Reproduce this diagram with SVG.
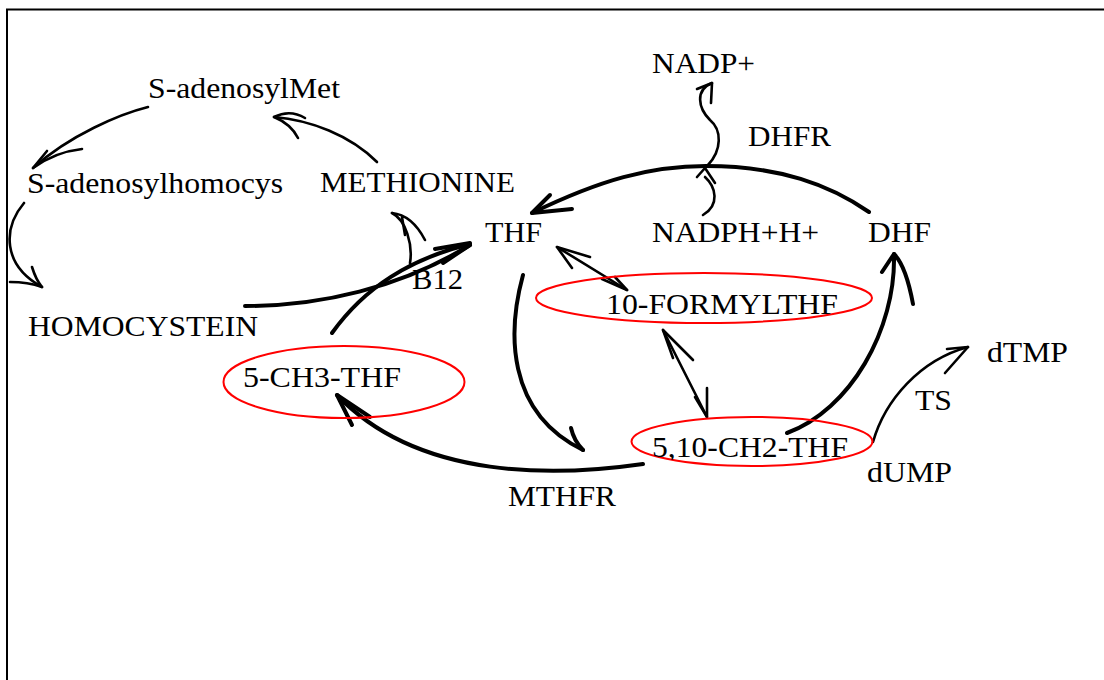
<svg xmlns="http://www.w3.org/2000/svg" width="1104" height="680" viewBox="0 0 1104 680">
  <style>
    .lbl { font-family: "Liberation Serif", "Times New Roman", serif; font-size: 30px; fill: #000; }
    .oval { fill: none; stroke: #ff0000; stroke-width: 2; }
    .thin { fill: none; stroke: #000; stroke-width: 2.6; stroke-linecap: round; stroke-linejoin: round; }
    .thick { fill: none; stroke: #000; stroke-width: 4; stroke-linecap: round; stroke-linejoin: round; }
  </style>
  <defs>
    <clipPath id="clipFormyl"><ellipse cx="704" cy="298" rx="168" ry="25"/></clipPath>
    <clipPath id="clipCh2"><ellipse cx="752" cy="441.5" rx="120.5" ry="24.5"/></clipPath>
  </defs>

  <rect width="1104" height="680" fill="#fff"/>
  <!-- page frame -->
  <path d="M7,690 L7,9.5 L1110,9.5" fill="none" stroke="#000" stroke-width="2"/>

  <!-- connectors -->
  <g id="connectors">
    <!-- S-adenosylMet to S-adenosylhomocys -->
    <path class="thin" d="M148,107 C120,114 70,135 33,168"/>
    <path class="thin" d="M47,151 L33,168 Q55,152 82,149"/>
    <!-- S-adenosylhomocys to HOMOCYSTEIN -->
    <path class="thin" d="M24,203 C3,228 2,265 42,287"/>
    <path class="thin" d="M32,267 Q36,280 42,287 Q28,282 10,282"/>
    <!-- METHIONINE to S-adenosylMet -->
    <path class="thin" d="M377,162 C350,135 310,120 274,117"/>
    <path class="thin" d="M305,118 Q290,109 274,117 Q291,124 298,138"/>
    <!-- HOMOCYSTEIN and 5-CH3-THF to THF (B12) -->
    <path class="thick" d="M245,306 C320,306 400,288 470,245"/>
    <path class="thick" d="M332,333 C365,287 410,259 470,244"/>
    <path class="thick" d="M435,249 L470,243 M443,263 L470,245"/>
    <!-- branch up to METHIONINE -->
    <path class="thin" d="M410,263 C413,245 406,220 392,213"/>
    <path class="thin" d="M392,213 Q412,215 425,240 M402,217 L405,235"/>
    <!-- DHF to THF -->
    <path class="thick" d="M869,212 C830,185 780,166 706,166 C650,166 600,180 532,213"/>
    <path class="thick" d="M550,195 L532,213 L572,209"/>
    <!-- NADPH+H+ to NADP+ -->
    <path class="thin" d="M703,215 C720,205 716,187 705,177"/>
    <path class="thin" d="M697,177 L705,168 L715,183"/>
    <path class="thin" d="M708,165 C722,150 722,130 710,120 C698,108 695,90 712,83"/>
    <path class="thin" d="M697,89 L712,83 L711,103"/>
    <!-- THF and 10-FORMYLTHF -->
    <path class="thin" d="M557,247 L627,290"/>
    <path class="thin" d="M590,257 L557,247 L572,268 M615,277 L627,290 L602,279"/>
    <!-- 10-FORMYLTHF and 5,10-CH2-THF -->
    <path class="thin" d="M663,330 L707,417"/>
    <path class="thin" d="M693,360 L663,330 L673,358 M707,388 L707,417 L695,397"/>
    <!-- THF to 5,10-CH2-THF -->
    <path class="thick" d="M523,275 C508,330 505,412 583,450"/>
    <path class="thick" d="M571,428 Q574,441 583,450"/>
    <!-- 5,10-CH2-THF to 5-CH3-THF (MTHFR) -->
    <path class="thick" d="M643,464 C560,476 420,482 337,395"/>
    <path class="thick" d="M370,417 L337,395 L352,425"/>
    <!-- 5,10-CH2-THF to DHF -->
    <path class="thick" d="M787,433 C850,410 896,330 894,254"/>
    <path class="thick" d="M882,272 L894,254 Q906,266 913,304"/>
    <!-- dUMP to dTMP (TS) -->
    <path class="thin" d="M873,442 C885,400 920,360 968,347"/>
    <path class="thin" d="M947,349 L968,347 L945,373"/>
  </g>

  <!-- nodes -->
  <g id="sam"><text class="lbl" x="148" y="98" textLength="192" lengthAdjust="spacingAndGlyphs">S-adenosylMet</text></g>
  <g id="sah"><text class="lbl" x="27" y="193" textLength="256" lengthAdjust="spacingAndGlyphs">S-adenosylhomocys</text></g>
  <g id="methionine"><text class="lbl" x="320" y="192" textLength="195" lengthAdjust="spacingAndGlyphs">METHIONINE</text></g>
  <g id="homocystein"><text class="lbl" x="28" y="336" textLength="230" lengthAdjust="spacingAndGlyphs">HOMOCYSTEIN</text></g>
  <g id="b12"><text class="lbl" x="412" y="289" textLength="51" lengthAdjust="spacingAndGlyphs">B12</text></g>
  <g id="thf"><text class="lbl" x="485" y="242" textLength="57" lengthAdjust="spacingAndGlyphs">THF</text></g>
  <g id="nadp"><text class="lbl" x="652" y="73" textLength="103" lengthAdjust="spacingAndGlyphs">NADP+</text></g>
  <g id="dhfr"><text class="lbl" x="748" y="146" textLength="83" lengthAdjust="spacingAndGlyphs">DHFR</text></g>
  <g id="nadph"><text class="lbl" x="652" y="242" textLength="167" lengthAdjust="spacingAndGlyphs">NADPH+H+</text></g>
  <g id="dhf"><text class="lbl" x="868" y="242" textLength="63" lengthAdjust="spacingAndGlyphs">DHF</text></g>
  <g id="formylthf">
    <ellipse class="oval" cx="704" cy="298" rx="168" ry="25"/>
    <text class="lbl" x="606" y="314" textLength="232" lengthAdjust="spacingAndGlyphs" clip-path="url(#clipFormyl)">10-FORMYLTHF</text>
  </g>
  <g id="ch3thf">
    <ellipse class="oval" cx="344" cy="382" rx="120.5" ry="36"/>
    <text class="lbl" x="243" y="387" textLength="158" lengthAdjust="spacingAndGlyphs">5-CH3-THF</text>
  </g>
  <g id="ch2thf">
    <ellipse class="oval" cx="752" cy="441.5" rx="120.5" ry="24.5"/>
    <text class="lbl" x="652" y="457" textLength="196" lengthAdjust="spacingAndGlyphs" clip-path="url(#clipCh2)">5,10-CH2-THF</text>
  </g>
  <g id="dtmp"><text class="lbl" x="987" y="362" textLength="81" lengthAdjust="spacingAndGlyphs">dTMP</text></g>
  <g id="ts"><text class="lbl" x="915" y="410" textLength="37" lengthAdjust="spacingAndGlyphs">TS</text></g>
  <g id="dump"><text class="lbl" x="867" y="482" textLength="85" lengthAdjust="spacingAndGlyphs">dUMP</text></g>
  <g id="mthfr"><text class="lbl" x="508" y="506" textLength="108" lengthAdjust="spacingAndGlyphs">MTHFR</text></g>
</svg>
